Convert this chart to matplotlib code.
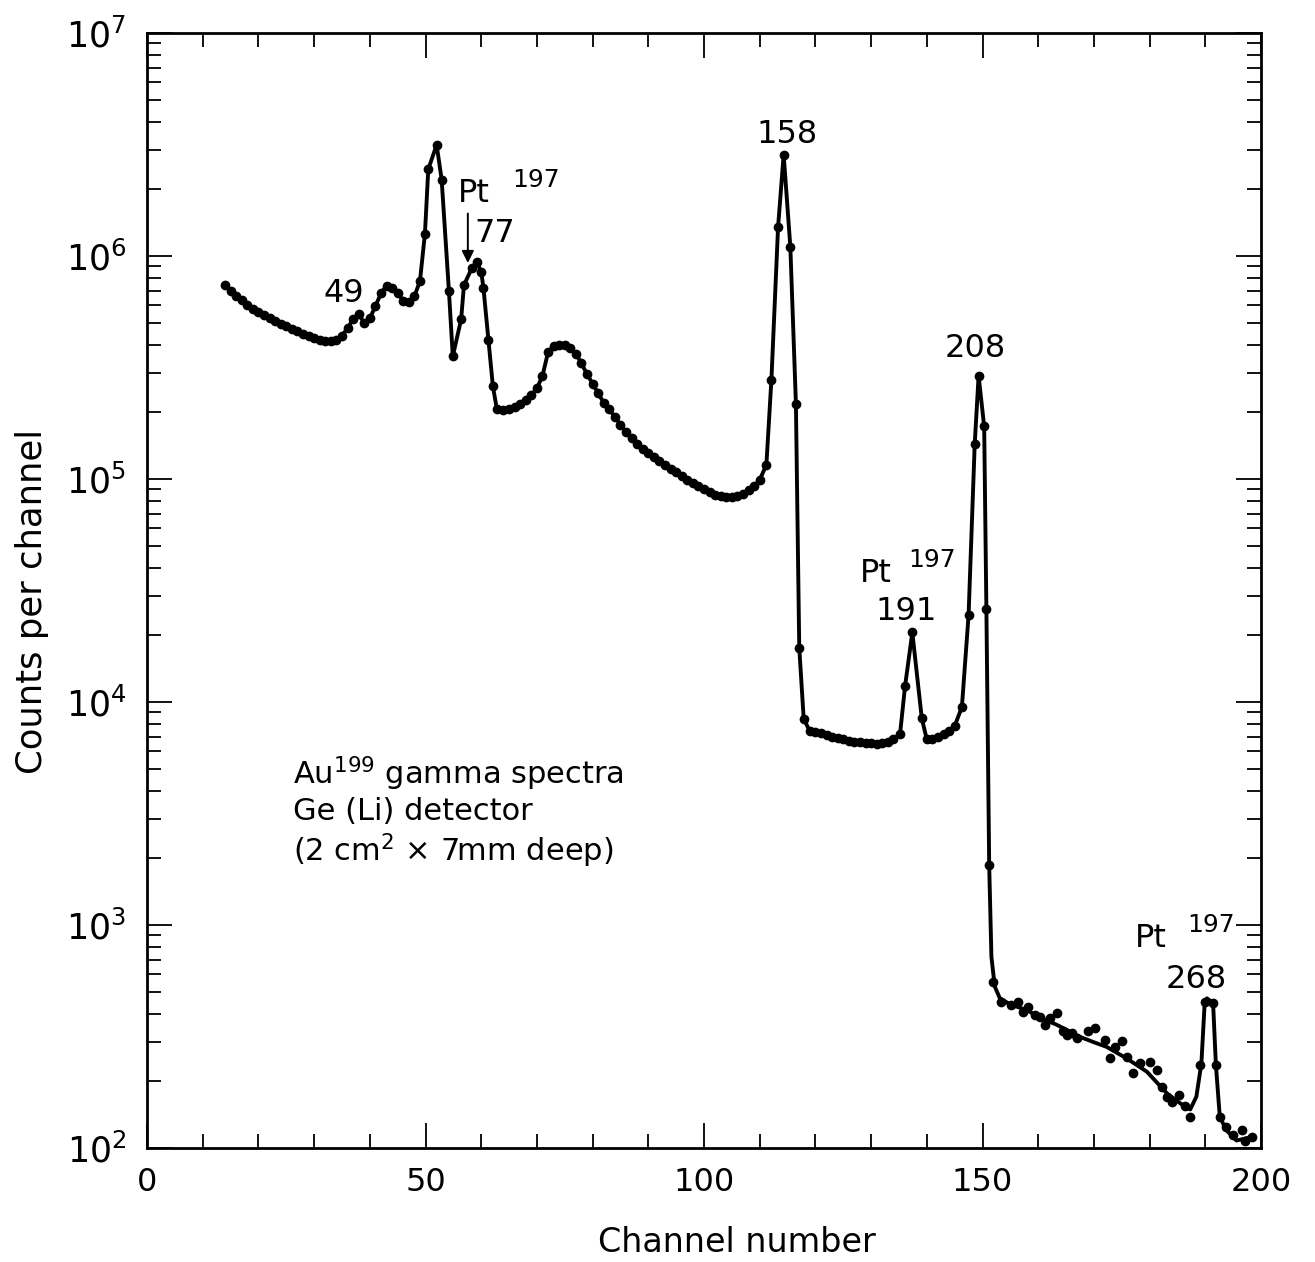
import matplotlib
matplotlib.use("Agg")
import matplotlib.pyplot as plt
from matplotlib.ticker import MultipleLocator, LogLocator, NullFormatter, FixedLocator

plt.rcParams['font.family'] = ['DejaVu Sans']
plt.rcParams['mathtext.default'] = 'regular'

# ---------------- data ----------------
point_channel = [
    14, 15, 16, 17, 18, 19, 20, 21, 22, 23, 24, 25, 26, 27, 28, 29, 30, 31, 32, 33,
    34, 35, 36, 37, 38, 39, 40, 41, 42, 43, 44, 45, 46, 47, 48, 49,
    49.9, 50.5, 52.0, 52.9, 54.2, 54.9, 56.4, 56.9, 58.3, 59.2, 60.0, 60.4, 61.3, 62.1, 62.8,
    64, 65, 66, 67, 68, 69, 70, 71, 72, 73, 74, 75, 76, 77, 78, 79, 80,
    81, 82, 83, 84, 85, 86, 87, 88, 89, 90, 91, 92, 93, 94, 95, 96, 97, 98, 99, 100,
    101, 102, 103, 104, 105, 106, 107, 108, 109, 110,
    111.2, 112.1, 113.3, 114.3, 115.5, 116.5, 117.1, 117.9,
    119, 120, 121, 122, 123, 124, 125, 126, 127, 128, 129, 130, 131, 132, 133, 134,
    135.2, 136.1, 137.4, 139.1, 140.0, 141, 142, 143, 144, 145, 146.3,
    147.5, 148.6, 149.3, 150.3, 150.7, 151.2, 151.9,
    153.4, 155.2, 156.3, 157.3, 158.2, 159.4, 160.3, 161.2, 162.1, 163.3, 164.5, 165.1,
    166.0, 166.9, 169.0, 170.2, 172.0, 172.9, 173.8, 175.0, 175.9, 177.1, 178.3, 180.1,
    181.3, 182.2, 183.1, 184.0, 185.3, 186.4, 187.3, 189.0, 189.9, 191.4, 191.9, 192.6,
    193.8, 195.0, 196.5, 197.1, 198.3,
]
point_counts = [
    7.4e5, 7.0e5, 6.65e5, 6.35e5, 6.05e5, 5.8e5, 5.6e5, 5.42e5, 5.26e5, 5.12e5,
    4.98e5, 4.85e5, 4.72e5, 4.6e5, 4.48e5, 4.38e5, 4.28e5, 4.2e5, 4.15e5, 4.14e5,
    4.2e5, 4.38e5, 4.75e5, 5.2e5, 5.5e5, 5.0e5, 5.25e5, 5.95e5, 6.8e5, 7.35e5,
    7.2e5, 6.85e5, 6.3e5, 6.2e5, 6.6e5, 7.7e5,
    1.26e6, 2.45e6, 3.15e6, 2.2e6, 7.0e5, 3.55e5, 5.2e5, 7.4e5, 8.8e5, 9.4e5, 8.5e5, 7.2e5,
    4.2e5, 2.6e5, 2.07e5,
    2.03e5, 2.05e5, 2.1e5, 2.16e5, 2.25e5, 2.38e5, 2.55e5, 2.9e5, 3.7e5, 3.95e5, 4.0e5,
    3.98e5, 3.85e5, 3.65e5, 3.3e5, 2.95e5, 2.68e5,
    2.42e5, 2.2e5, 2.05e5, 1.9e5, 1.75e5, 1.62e5, 1.52e5, 1.44e5, 1.37e5, 1.31e5,
    1.26e5, 1.2e5, 1.15e5, 1.11e5, 1.07e5, 1.03e5, 9.9e4, 9.6e4, 9.3e4, 9.0e4,
    8.7e4, 8.5e4, 8.35e4, 8.3e4, 8.3e4, 8.4e4, 8.6e4, 8.9e4, 9.3e4, 9.9e4,
    1.16e5, 2.78e5, 1.35e6, 2.85e6, 1.1e6, 2.18e5, 1.75e4, 8.4e3,
    7.4e3, 7.3e3, 7.25e3, 7.1e3, 7.0e3, 6.9e3, 6.8e3, 6.7e3, 6.6e3, 6.6e3,
    6.55e3, 6.55e3, 6.5e3, 6.55e3, 6.6e3, 6.8e3,
    7.2e3, 1.18e4, 2.05e4, 8.45e3, 6.8e3, 6.85e3, 7.0e3, 7.2e3, 7.45e3, 7.8e3, 9.5e3,
    2.45e4, 1.43e5, 2.9e5, 1.72e5, 2.6e4, 1.86e3, 557,
    453, 438, 453, 408, 431, 394, 388, 356, 381, 402, 333, 321,
    327, 310, 333, 344, 305, 252, 284, 303, 257, 218, 240, 244,
    224, 188, 170, 161, 173, 154, 138, 236, 453, 446, 236, 138,
    124, 114, 120, 107, 112,
]

# smooth line drawn through the noisy tail
tail_curve_channel = [151.2, 151.6, 152.2, 153.1, 155, 158, 160.3, 163, 165, 167.5, 170,
                      172.3, 175.9, 179.5, 183.1, 185, 186.7, 187.3, 188.4, 189.3, 189.9,
                      190.3, 191.4, 191.9, 192.6, 193.8, 195.6, 197, 198.3]
tail_curve_counts = [1.86e3, 720, 530, 470, 440, 415, 383, 360, 340, 315, 298,
                     284, 252, 220, 176, 162, 151, 149, 170, 240, 453,
                     469, 446, 236, 138, 120, 108, 110, 112]

x_ticks = [0, 50, 100, 150, 200]
y_decades = [1e2, 1e3, 1e4, 1e5, 1e6, 1e7]

# ---------------- figure ----------------
fig = plt.figure(figsize=(13.15, 12.62), dpi=100)
ax = fig.add_axes([147/1315, 1-1148/1262, (1261-147)/1315, (1148-33)/1262])

cut = point_channel.index(151.2)
line_x = point_channel[:cut] + tail_curve_channel
line_y = point_counts[:cut] + tail_curve_counts
ax.plot(line_x, line_y, color='black', lw=2.8, solid_joinstyle='round',
        solid_capstyle='round', zorder=2)
ax.plot(point_channel, point_counts, 'o', color='black', ms=6, zorder=3)

ax.set_yscale('log')
ax.set_xlim(0, 200)
ax.set_ylim(1e2, 1e7)

ax.xaxis.set_major_locator(FixedLocator(x_ticks))
ax.xaxis.set_minor_locator(MultipleLocator(10))
ax.yaxis.set_major_locator(FixedLocator(y_decades))
ax.yaxis.set_minor_locator(LogLocator(base=10, subs=range(2, 10)))
ax.yaxis.set_minor_formatter(NullFormatter())
ax.set_xticklabels([str(v) for v in x_ticks])
ax.set_yticklabels([r'$10^{%d}$' % p for p in range(2, 8)])

for s in ax.spines.values():
    s.set_linewidth(2.0)
ax.tick_params(which='both', direction='in', top=True, right=True, width=1.3)
ax.tick_params(which='major', length=18)
ax.tick_params(which='minor', length=10)
ax.tick_params(axis='x', which='major', labelsize=23, pad=14)
ax.tick_params(axis='y', which='major', labelsize=25, pad=15)

ax.set_xlabel('Channel number', fontsize=24)
ax.xaxis.set_label_coords((737-147)/1114, (1148-1252)/1115)
ax.xaxis.label.set_va('baseline')
ax.set_ylabel('Counts per channel', fontsize=25.5)
ax.yaxis.set_label_coords((147-32)/-1114, 0.49)
ax.yaxis.label.set_va('center')

# ---------------- annotations ----------------
fs = 23
fs_sup = 18
ax.text(35.4, 6.2e5, '49', fontsize=fs, ha='center', va='baseline')
ax.text(55.8, 1.75e6, 'Pt', fontsize=fs, ha='left', va='baseline')
ax.text(65.5, 2.04e6, '197', fontsize=fs_sup, ha='left', va='baseline')
ax.annotate('', xy=(57.6, 9.3e5), xytext=(57.6, 1.55e6),
            arrowprops=dict(arrowstyle='-|>', color='black', lw=1.4,
                            mutation_scale=18, shrinkA=0, shrinkB=0))
ax.text(58.8, 1.16e6, '77', fontsize=fs, ha='left', va='baseline')
ax.text(114.9, 3.21e6, '158', fontsize=fs, ha='center', va='baseline')
ax.text(148.7, 3.52e5, '208', fontsize=fs, ha='center', va='baseline')
ax.text(128.0, 3.45e4, 'Pt', fontsize=fs, ha='left', va='baseline')
ax.text(136.6, 4.03e4, '197', fontsize=fs_sup, ha='left', va='baseline')
ax.text(136.3, 2.33e4, '191', fontsize=fs, ha='center', va='baseline')
ax.text(177.4, 796, 'Pt', fontsize=fs, ha='left', va='baseline')
ax.text(186.7, 931, '197', fontsize=fs_sup, ha='left', va='baseline')
ax.text(188.3, 521, '268', fontsize=fs, ha='center', va='baseline')

ax.text(26.2, 4.25e3, r'Au$^{199}$ gamma spectra', fontsize=22, ha='left', va='baseline')
ax.text(26.2, 2.95e3, 'Ge (Li) detector', fontsize=22, ha='left', va='baseline')
ax.text(26.2, 1.93e3, r'(2 cm$^{2}$ × 7mm deep)', fontsize=22, ha='left', va='baseline')

fig.savefig('out.png', dpi=100, facecolor='white')
